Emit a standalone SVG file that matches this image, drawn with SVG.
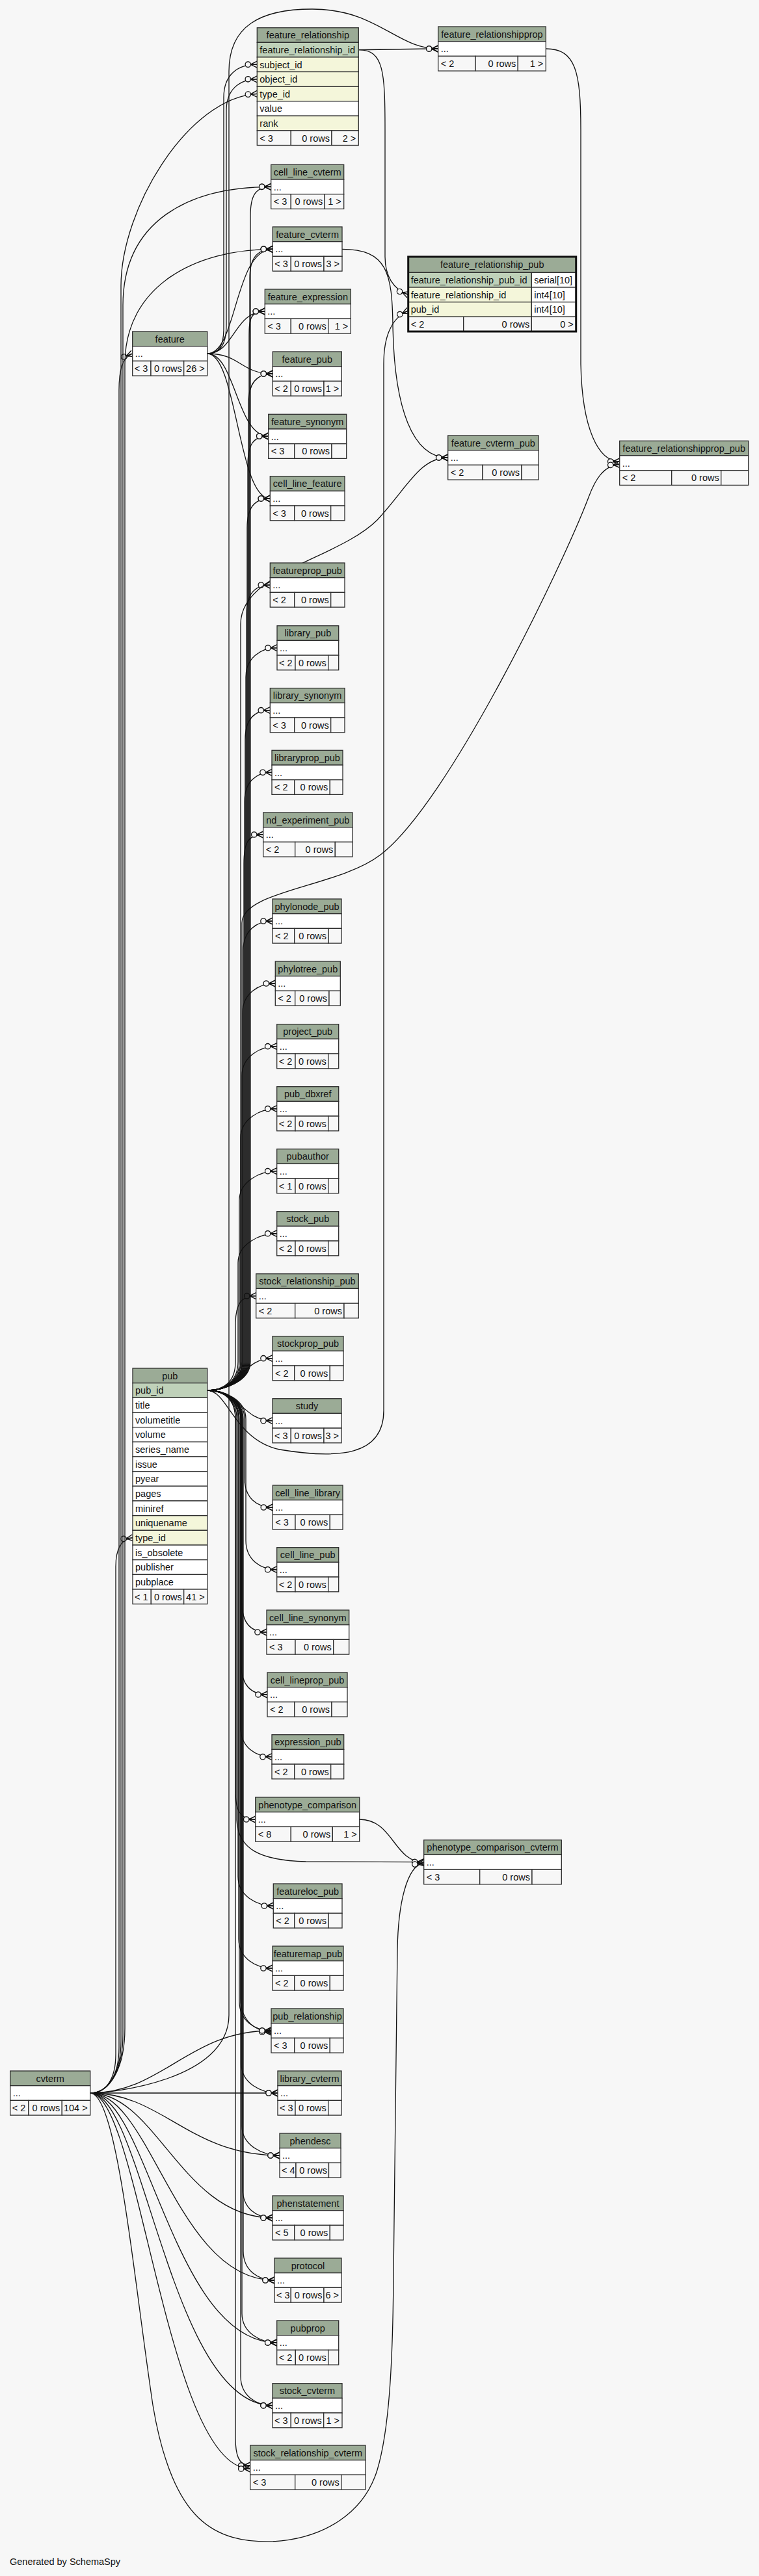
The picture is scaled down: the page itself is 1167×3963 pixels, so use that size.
<svg xmlns="http://www.w3.org/2000/svg" width="1167" height="3963" viewBox="0 0 1167 3963">
<style>
.h{fill:#9bab96;stroke:#2d2d2d;stroke-width:1.3}
.r{fill:#ffffff;stroke:#2d2d2d;stroke-width:1.3}
.p{fill:#bfd1b9;stroke:#2d2d2d;stroke-width:1.3}
.k{fill:#f4f6da;stroke:#2d2d2d;stroke-width:1.3}
.f{fill:#f7f7f7;stroke:#2d2d2d;stroke-width:1.3}
text{font-family:"Liberation Sans",Arial,Helvetica,sans-serif;font-size:14.5px;fill:#111}
.c{text-anchor:middle}
.e{text-anchor:end}
.ln{fill:none;stroke:#111;stroke-width:1.3;marker-end:url(#cf)}
</style>
<defs>
<marker id="cf" markerUnits="userSpaceOnUse" markerWidth="24" markerHeight="14" viewBox="-21 -7 24 14" refX="0" refY="0" orient="auto" overflow="visible">
<path d="M-10,0 L0,-5 M-10,0 L0,0 M-10,0 L0,5" stroke="#111" stroke-width="1.4" fill="none"/>
<circle cx="-14" cy="0" r="4.2" fill="#f7f7f7" stroke="#111" stroke-width="1.3"/>
</marker>
</defs>
<rect x="0" y="0" width="1167" height="3963" fill="#f7f7f7"/>

<g id="connectors">
<!-- feature_relationship children -->
<path class="ln" d="M551.3,76.6 C610,76.6 620,75 673.7,75"/>
<path class="ln" d="M551.3,76.6 C590,76.6 592,110 592,200 L592,395 C592,425 605,445 627.7,453.3"/>
<path class="ln" d="M839.3,75 C885,75 893,110 893,200 L893,560 C895,660 920,710 952.7,710"/>
<path class="ln" d="M526,383.3 C595,383.3 603,420 604,500 C606,630 635,704 688.7,704"/>
<path class="ln" d="M552.7,2799 C605,2799 605,2864.7 651.7,2864.7"/>
<!-- feature edges -->
<path class="ln" d="M318.7,544 C338,544 344,530 344,505 L344,150 C344,115 365,99.2 395.3,99.2"/>
<path class="ln" d="M318.7,544 C340,544 348,528 348,500 L348,170 C348,138 368,121.8 395.3,121.8"/>
<path class="ln" d="M318.7,544 C365,544 360,383.3 419.3,383.3"/>
<path class="ln" d="M318.7,544 C360,544 360,479 407.3,479"/>
<path class="ln" d="M318.7,544 C370,544 370,575 419.3,575"/>
<path class="ln" d="M318.7,544 C362,544 364,671 412.7,671"/>
<path class="ln" d="M318.7,544 C364,544 366,767 415.3,767"/>
<!-- pub edges (up) -->
<path class="ln" d="M318.7,2139 C345,2139 362,2125 362,2095 L362,2038.7 C362,2008.7 368.7,1993.7 393.7,1993.7"/>
<path class="ln" d="M318.7,2139 C345,2139 366,2125 366,2095 L366,1942.7 C366,1912.7 400.7,1897.7 425.7,1897.7"/>
<path class="ln" d="M318.7,2139 C345,2139 368,2125 368,2095 L368,1846.7 C368,1816.7 400.7,1801.7 425.7,1801.7"/>
<path class="ln" d="M318.7,2139 C345,2139 370,2125 370,2095 L370,1750.7 C370,1720.7 400.7,1705.7 425.7,1705.7"/>
<path class="ln" d="M318.7,2139 C345,2139 372,2125 372,2095 L372,1654.7 C372,1624.7 400.7,1609.7 425.7,1609.7"/>
<path class="ln" d="M318.7,2139 C345,2139 373,2125 373,2095 L373,1558 C373,1528 398.3,1513 423.3,1513"/>
<path class="ln" d="M318.7,2139 C345,2139 374,2125 374,2095 L374,1462 C374,1432 394,1417 419,1417"/>
<path class="ln" d="M318.7,2139 C345,2139 375,2125 375,2095 L375,1329 C375,1299 379.7,1284 404.7,1284"/>
<path class="ln" d="M318.7,2139 C345,2139 376,2125 376,2095 L376,1233.3 C376,1203.3 393,1188.3 418,1188.3"/>
<path class="ln" d="M318.7,2139 C345,2139 377,2125 377,2095 L377,1137.7 C377,1107.7 390.3,1092.7 415.3,1092.7"/>
<path class="ln" d="M318.7,2139 C345,2139 378,2125 378,2095 L378,1041.7 C378,1011.7 401,996.7 426,996.7"/>
<path class="ln" d="M318.7,2139 C345,2139 379,2125 379,2095 L379,945 C379,915 390.3,900 415.3,900"/>
<path class="ln" d="M318.7,2139 C345,2139 380,2125 380,2095 L380,812 C380,782 390.3,767 415.3,767"/>
<path class="ln" d="M318.7,2139 C345,2139 381,2125 381,2095 L381,716 C381,686 387.7,671 412.7,671"/>
<path class="ln" d="M318.7,2139 C345,2139 382,2125 382,2095 L382,620 C382,590 394.3,575 419.3,575"/>
<path class="ln" d="M318.7,2139 C345,2139 383,2125 383,2095 L383,524 C383,494 382.3,479 407.3,479"/>
<path class="ln" d="M318.7,2139 C345,2139 384,2125 384,2095 L384,428.3 C384,398.3 394.3,383.3 419.3,383.3"/>
<path class="ln" d="M318.7,2139 C345,2139 385,2125 385,2095 L385,332.3 C385,302.3 391.7,287.3 416.7,287.3"/>
<path class="ln" d="M318.7,2139 C345,2139 370,2125 370,2095 L370,960 C370,880 520,860 580,800 C625,752 645,704 688.7,704"/>
<path class="ln" d="M318.7,2139 C345,2139 372,2125 372,2095 L372,1420 C372,1370 520,1365 585,1315 C690,1235 865,870 905,765 C915,738 928,716 952.7,714.5"/>
<path class="ln" d="M318.7,2139 C350,2139 360,2215 430,2230 C520,2245 590,2240 590,2170 L590,560 C590,520 600,490 627.7,478"/>
<!-- pub edges (down) -->
<path class="ln" d="M318.7,2139 C370,2139 372,2185.7 419,2185.7"/>
<path class="ln" d="M318.7,2139 C370,2139 372,2089.7 419,2089.7"/>
<path class="ln" d="M318.7,2139 C345,2139 376,2153 376,2183 L376,2274 C376,2304 394.3,2319 419.3,2319"/>
<path class="ln" d="M318.7,2139 C345,2139 378,2153 378,2183 L378,2369.7 C378,2399.7 400.7,2414.7 425.7,2414.7"/>
<path class="ln" d="M318.7,2139 C345,2139 372,2153 372,2183 L372,2466 C372,2496 385,2511 410,2511"/>
<path class="ln" d="M318.7,2139 C345,2139 371,2153 371,2183 L371,2562 C371,2592 386,2607 411,2607"/>
<path class="ln" d="M318.7,2139 C345,2139 370,2153 370,2183 L370,2657.7 C370,2687.7 393,2702.7 418,2702.7"/>
<path class="ln" d="M318.7,2139 C345,2139 362,2153 362,2183 L362,2754 C362,2784 367.7,2799 392.7,2799"/>
<path class="ln" d="M318.7,2139 C345,2139 364,2153 364,2183 L364,2800 C366,2845 400,2862 470,2864 L651.7,2864.7"/>
<path class="ln" d="M318.7,2139 C345,2139 366,2153 366,2183 L366,2887 C366,2917 395.3,2932 420.3,2932"/>
<path class="ln" d="M318.7,2139 C345,2139 367,2153 367,2183 L367,2983 C367,3013 394,3028 419,3028"/>
<path class="ln" d="M318.7,2139 C345,2139 368,2153 368,2183 L368,3079 C368,3109 392,3124 417,3124"/>
<path class="ln" d="M318.7,2139 C345,2139 370,2153 370,2183 L370,3075 C370,3110 395,3126 417,3126"/>
<path class="ln" d="M318.7,2139 C345,2139 371,2153 371,2183 L371,3175 C371,3205 402,3220 427,3220"/>
<path class="ln" d="M318.7,2139 C345,2139 372,2153 372,2183 L372,3271 C372,3301 405,3316 430,3316"/>
<path class="ln" d="M318.7,2139 C345,2139 373,2153 373,2183 L373,3367 C373,3397 394,3412 419,3412"/>
<path class="ln" d="M318.7,2139 C345,2139 374,2153 374,2183 L374,3463 C374,3493 397,3508 422,3508"/>
<path class="ln" d="M318.7,2139 C345,2139 372,2153 372,2183 L372,3559 C372,3589 400.7,3604 425.7,3604"/>
<path class="ln" d="M318.7,2139 C345,2139 370,2153 370,2183 L370,3655.7 C370,3685.7 394,3700.7 419,3700.7"/>
<path class="ln" d="M318.7,2139 C345,2139 362,2153 362,2183 L362,3750 C362,3775 366,3793 384.7,3793"/>
<!-- cvterm edges -->
<path class="ln" d="M138.7,3220 C162,3220 178,3200 178,3160 L178,2410 C178,2385 185,2368 204,2365.7"/>
<path class="ln" d="M138.7,3220 C164,3220 183,3195 183,3150 L183,600 C183,570 188,550 203.7,544"/>
<path class="ln" d="M138.7,3220 C166,3220 186,3190 186,3140 L186,440 C186,320 290,150 395.3,144.4"/>
<path class="ln" d="M138.7,3220 C168,3220 189,3185 189,3130 L189,470 C189,340 290,287.3 416.7,287.3"/>
<path class="ln" d="M138.7,3220 C170,3220 192,3180 192,3120 L192,560 C192,440 300,383.3 419.3,383.3"/>
<path class="ln" d="M138.7,3220 C172,3220 352,3200 352,3100 L352,110 C352,40 400,14 480,14 C580,14 610,75 673.7,75"/>
<path class="ln" d="M138.7,3220 C250,3220 290,3124 417,3124"/>
<path class="ln" d="M138.7,3220 L427,3220"/>
<path class="ln" d="M138.7,3220 C250,3220 290,3316 430,3316"/>
<path class="ln" d="M138.7,3220 C240,3220 280,3412 419,3412"/>
<path class="ln" d="M138.7,3220 C232,3220 272,3508 422,3508"/>
<path class="ln" d="M138.7,3220 C226,3220 266,3604 425.7,3604"/>
<path class="ln" d="M138.7,3220 C220,3220 262,3700.7 419,3700.7"/>
<path class="ln" d="M138.7,3220 C214,3220 256,3798 384.7,3798"/>
<path class="ln" d="M138.7,3220 C180,3220 205,3500 235,3700 C265,3880 330,3912 420,3910 C500,3905 560,3865 580,3800 C598,3740 604,3640 605,3500 L611,3000 C612,2930 625,2870 651.7,2866"/>
</g>

<g id="feature_relationship">
<rect class="h" x="395.3" y="42.7" width="156" height="22.6"/>
<rect class="p" x="395.3" y="65.3" width="156" height="22.6"/>
<rect class="k" x="395.3" y="87.9" width="156" height="22.6"/>
<rect class="k" x="395.3" y="110.5" width="156" height="22.6"/>
<rect class="k" x="395.3" y="133.1" width="156" height="22.6"/>
<rect class="r" x="395.3" y="155.7" width="156" height="22.6"/>
<rect class="k" x="395.3" y="178.3" width="156" height="22.6"/>
<rect class="f" x="395.3" y="200.9" width="52" height="22.6"/>
<rect class="f" x="447.3" y="200.9" width="62.7" height="22.6"/>
<rect class="f" x="510" y="200.9" width="41.3" height="22.6"/>
<text class="c" x="473.3" y="59.3">feature_relationship</text>
<text x="399.3" y="81.9">feature_relationship_id</text>
<text x="399.3" y="104.5">subject_id</text>
<text x="399.3" y="127.1">object_id</text>
<text x="399.3" y="149.7">type_id</text>
<text x="399.3" y="172.3">value</text>
<text x="399.3" y="194.9">rank</text>
<text x="399.3" y="217.5">&lt; 3</text>
<text class="e" x="507" y="217.5">0 rows</text>
<text class="e" x="547.3" y="217.5">2 &gt;</text>
</g>

<g id="feature_relationshipprop">
<rect class="h" x="673.7" y="41" width="165.6" height="22.7"/>
<rect class="r" x="673.7" y="63.7" width="165.6" height="22.7"/>
<rect class="f" x="673.7" y="86.4" width="57.3" height="22.7"/>
<rect class="f" x="731" y="86.4" width="65.3" height="22.7"/>
<rect class="f" x="796.3" y="86.4" width="43" height="22.7"/>
<text class="c" x="756.5" y="57.6">feature_relationshipprop</text>
<text x="677.7" y="80.3">...</text>
<text x="677.7" y="103">&lt; 2</text>
<text class="e" x="793.3" y="103">0 rows</text>
<text class="e" x="835.3" y="103">1 &gt;</text>
</g>

<g id="feature_relationship_pub">
<rect class="h" x="627.7" y="395" width="258" height="24.3"/>
<rect class="p" x="627.7" y="419.3" width="189.6" height="22.7"/>
<rect class="r" x="817.3" y="419.3" width="68.4" height="22.7"/>
<rect class="k" x="627.7" y="442" width="189.6" height="22.7"/>
<rect class="r" x="817.3" y="442" width="68.4" height="22.7"/>
<rect class="k" x="627.7" y="464.7" width="189.6" height="22.7"/>
<rect class="r" x="817.3" y="464.7" width="68.4" height="22.7"/>
<rect class="f" x="627.7" y="487.4" width="85" height="22.6"/>
<rect class="f" x="712.7" y="487.4" width="104.6" height="22.6"/>
<rect class="f" x="817.3" y="487.4" width="68.4" height="22.6"/>
<rect x="627.7" y="395" width="258" height="115" fill="none" stroke="#111" stroke-width="3"/>
<text class="c" x="756.7" y="412.2">feature_relationship_pub</text>
<text x="631.7" y="435.9">feature_relationship_pub_id</text>
<text x="821.3" y="435.9">serial[10]</text>
<text x="631.7" y="458.6">feature_relationship_id</text>
<text x="821.3" y="458.6">int4[10]</text>
<text x="631.7" y="481.3">pub_id</text>
<text x="821.3" y="481.3">int4[10]</text>
<text x="631.7" y="504">&lt; 2</text>
<text class="e" x="814.3" y="504">0 rows</text>
<text class="e" x="881.7" y="504">0 &gt;</text>
</g>

<g id="cell_line_cvterm">
<rect class="h" x="416.7" y="253.3" width="112" height="22.7"/>
<rect class="r" x="416.7" y="276" width="112" height="22.7"/>
<rect class="f" x="416.7" y="298.7" width="30.6" height="22.7"/>
<rect class="f" x="447.3" y="298.7" width="52" height="22.7"/>
<rect class="f" x="499.3" y="298.7" width="29.4" height="22.7"/>
<text class="c" x="472.7" y="269.9">cell_line_cvterm</text>
<text x="420.7" y="292.6">...</text>
<text x="420.7" y="315.3">&lt; 3</text>
<text class="e" x="496.3" y="315.3">0 rows</text>
<text class="e" x="524.7" y="315.3">1 &gt;</text>
</g>

<g id="feature_cvterm">
<rect class="h" x="419.3" y="349" width="106.7" height="22.7"/>
<rect class="r" x="419.3" y="371.7" width="106.7" height="22.7"/>
<rect class="f" x="419.3" y="394.4" width="28" height="22.7"/>
<rect class="f" x="447.3" y="394.4" width="50.7" height="22.7"/>
<rect class="f" x="498" y="394.4" width="28" height="22.7"/>
<text class="c" x="472.65" y="365.6">feature_cvterm</text>
<text x="423.3" y="388.3">...</text>
<text x="422.3" y="411">&lt; 3</text>
<text class="e" x="495" y="411">0 rows</text>
<text class="e" x="522" y="411">3 &gt;</text>
</g>

<g id="feature_expression">
<rect class="h" x="407.3" y="445" width="132" height="22.7"/>
<rect class="r" x="407.3" y="467.7" width="132" height="22.7"/>
<rect class="f" x="407.3" y="490.4" width="40" height="22.7"/>
<rect class="f" x="447.3" y="490.4" width="57.4" height="22.7"/>
<rect class="f" x="504.7" y="490.4" width="34.6" height="22.7"/>
<text class="c" x="473.3" y="461.6">feature_expression</text>
<text x="411.3" y="484.3">...</text>
<text x="411.3" y="507">&lt; 3</text>
<text class="e" x="501.7" y="507">0 rows</text>
<text class="e" x="535.3" y="507">1 &gt;</text>
</g>

<g id="feature">
<rect class="h" x="203.7" y="510" width="115" height="22.7"/>
<rect class="r" x="203.7" y="532.7" width="115" height="22.7"/>
<rect class="f" x="203.7" y="555.4" width="28.3" height="22.7"/>
<rect class="f" x="232" y="555.4" width="50.7" height="22.7"/>
<rect class="f" x="282.7" y="555.4" width="36" height="22.7"/>
<text class="c" x="261.2" y="526.6">feature</text>
<text x="207.7" y="549.3">...</text>
<text x="206.7" y="572">&lt; 3</text>
<text class="e" x="279.7" y="572">0 rows</text>
<text class="e" x="314.7" y="572">26 &gt;</text>
</g>

<g id="feature_pub">
<rect class="h" x="419.3" y="541" width="106" height="22.7"/>
<rect class="r" x="419.3" y="563.7" width="106" height="22.7"/>
<rect class="f" x="419.3" y="586.4" width="28" height="22.7"/>
<rect class="f" x="447.3" y="586.4" width="50.7" height="22.7"/>
<rect class="f" x="498" y="586.4" width="27.3" height="22.7"/>
<text class="c" x="472.3" y="557.6">feature_pub</text>
<text x="423.3" y="580.3">...</text>
<text x="422.3" y="603">&lt; 2</text>
<text class="e" x="495" y="603">0 rows</text>
<text class="e" x="521.3" y="603">1 &gt;</text>
</g>

<g id="feature_synonym">
<rect class="h" x="412.7" y="637.3" width="120" height="22.7"/>
<rect class="r" x="412.7" y="660" width="120" height="22.7"/>
<rect class="f" x="412.7" y="682.7" width="40" height="22.7"/>
<rect class="f" x="452.7" y="682.7" width="57.3" height="22.7"/>
<rect class="f" x="510" y="682.7" width="22.7" height="22.7"/>
<text class="c" x="472.7" y="653.9">feature_synonym</text>
<text x="416.7" y="676.6">...</text>
<text x="416.7" y="699.3">&lt; 3</text>
<text class="e" x="507" y="699.3">0 rows</text>
</g>

<g id="cell_line_feature">
<rect class="h" x="415.3" y="732.7" width="114.7" height="22.7"/>
<rect class="r" x="415.3" y="755.4" width="114.7" height="22.7"/>
<rect class="f" x="415.3" y="778.1" width="37.4" height="22.7"/>
<rect class="f" x="452.7" y="778.1" width="56" height="22.7"/>
<rect class="f" x="508.7" y="778.1" width="21.3" height="22.7"/>
<text class="c" x="472.65" y="749.3">cell_line_feature</text>
<text x="419.3" y="772">...</text>
<text x="419.3" y="794.7">&lt; 3</text>
<text class="e" x="505.7" y="794.7">0 rows</text>
</g>

<g id="feature_cvterm_pub">
<rect class="h" x="688.7" y="670" width="139.3" height="22.7"/>
<rect class="r" x="688.7" y="692.7" width="139.3" height="22.7"/>
<rect class="f" x="688.7" y="715.4" width="53.3" height="22.7"/>
<rect class="f" x="742" y="715.4" width="60" height="22.7"/>
<rect class="f" x="802" y="715.4" width="26" height="22.7"/>
<text class="c" x="758.35" y="686.6">feature_cvterm_pub</text>
<text x="692.7" y="709.3">...</text>
<text x="692.7" y="732">&lt; 2</text>
<text class="e" x="799" y="732">0 rows</text>
</g>

<g id="feature_relationshipprop_pub">
<rect class="h" x="952.7" y="678.3" width="198" height="22.7"/>
<rect class="r" x="952.7" y="701" width="198" height="22.7"/>
<rect class="f" x="952.7" y="723.7" width="80" height="22.7"/>
<rect class="f" x="1032.7" y="723.7" width="76" height="22.7"/>
<rect class="f" x="1108.7" y="723.7" width="42" height="22.7"/>
<text class="c" x="1051.7" y="694.9">feature_relationshipprop_pub</text>
<text x="956.7" y="717.6">...</text>
<text x="956.7" y="740.3">&lt; 2</text>
<text class="e" x="1105.7" y="740.3">0 rows</text>
</g>

<g id="featureprop_pub">
<rect class="h" x="415.3" y="866" width="114.7" height="22.7"/>
<rect class="r" x="415.3" y="888.7" width="114.7" height="22.7"/>
<rect class="f" x="415.3" y="911.4" width="37.4" height="22.7"/>
<rect class="f" x="452.7" y="911.4" width="56" height="22.7"/>
<rect class="f" x="508.7" y="911.4" width="21.3" height="22.7"/>
<text class="c" x="472.65" y="882.6">featureprop_pub</text>
<text x="419.3" y="905.3">...</text>
<text x="419.3" y="928">&lt; 2</text>
<text class="e" x="505.7" y="928">0 rows</text>
</g>

<g id="library_pub">
<rect class="h" x="426" y="962.7" width="94.7" height="22.7"/>
<rect class="r" x="426" y="985.4" width="94.7" height="22.7"/>
<rect class="f" x="426" y="1008.1" width="28" height="22.7"/>
<rect class="f" x="454" y="1008.1" width="50.7" height="22.7"/>
<rect class="f" x="504.7" y="1008.1" width="16" height="22.7"/>
<text class="c" x="473.35" y="979.3">library_pub</text>
<text x="430" y="1002">...</text>
<text x="429" y="1024.7">&lt; 2</text>
<text class="e" x="501.7" y="1024.7">0 rows</text>
</g>

<g id="library_synonym">
<rect class="h" x="415.3" y="1058.7" width="114.7" height="22.7"/>
<rect class="r" x="415.3" y="1081.4" width="114.7" height="22.7"/>
<rect class="f" x="415.3" y="1104.1" width="37.4" height="22.7"/>
<rect class="f" x="452.7" y="1104.1" width="56" height="22.7"/>
<rect class="f" x="508.7" y="1104.1" width="21.3" height="22.7"/>
<text class="c" x="472.65" y="1075.3">library_synonym</text>
<text x="419.3" y="1098">...</text>
<text x="419.3" y="1120.7">&lt; 3</text>
<text class="e" x="505.7" y="1120.7">0 rows</text>
</g>

<g id="libraryprop_pub">
<rect class="h" x="418" y="1154.3" width="109" height="22.7"/>
<rect class="r" x="418" y="1177" width="109" height="22.7"/>
<rect class="f" x="418" y="1199.7" width="34.7" height="22.7"/>
<rect class="f" x="452.7" y="1199.7" width="54.6" height="22.7"/>
<rect class="f" x="507.3" y="1199.7" width="19.7" height="22.7"/>
<text class="c" x="472.5" y="1170.9">libraryprop_pub</text>
<text x="422" y="1193.6">...</text>
<text x="422" y="1216.3">&lt; 2</text>
<text class="e" x="504.3" y="1216.3">0 rows</text>
</g>

<g id="nd_experiment_pub">
<rect class="h" x="404.7" y="1250" width="137.3" height="22.7"/>
<rect class="r" x="404.7" y="1272.7" width="137.3" height="22.7"/>
<rect class="f" x="404.7" y="1295.4" width="49" height="22.7"/>
<rect class="f" x="453.7" y="1295.4" width="61.6" height="22.7"/>
<rect class="f" x="515.3" y="1295.4" width="26.7" height="22.7"/>
<text class="c" x="473.35" y="1266.6">nd_experiment_pub</text>
<text x="408.7" y="1289.3">...</text>
<text x="408.7" y="1312">&lt; 2</text>
<text class="e" x="512.3" y="1312">0 rows</text>
</g>

<g id="phylonode_pub">
<rect class="h" x="419" y="1383" width="106" height="22.7"/>
<rect class="r" x="419" y="1405.7" width="106" height="22.7"/>
<rect class="f" x="419" y="1428.4" width="33.7" height="22.7"/>
<rect class="f" x="452.7" y="1428.4" width="52.3" height="22.7"/>
<rect class="f" x="505" y="1428.4" width="20" height="22.7"/>
<text class="c" x="472" y="1399.6">phylonode_pub</text>
<text x="423" y="1422.3">...</text>
<text x="423" y="1445">&lt; 2</text>
<text class="e" x="502" y="1445">0 rows</text>
</g>

<g id="phylotree_pub">
<rect class="h" x="423.3" y="1479" width="100" height="22.7"/>
<rect class="r" x="423.3" y="1501.7" width="100" height="22.7"/>
<rect class="f" x="423.3" y="1524.4" width="30.4" height="22.7"/>
<rect class="f" x="453.7" y="1524.4" width="52.3" height="22.7"/>
<rect class="f" x="506" y="1524.4" width="17.3" height="22.7"/>
<text class="c" x="473.3" y="1495.6">phylotree_pub</text>
<text x="427.3" y="1518.3">...</text>
<text x="427.3" y="1541">&lt; 2</text>
<text class="e" x="503" y="1541">0 rows</text>
</g>

<g id="project_pub">
<rect class="h" x="425.7" y="1575.7" width="95" height="22.7"/>
<rect class="r" x="425.7" y="1598.4" width="95" height="22.7"/>
<rect class="f" x="425.7" y="1621.1" width="28.3" height="22.7"/>
<rect class="f" x="454" y="1621.1" width="50.7" height="22.7"/>
<rect class="f" x="504.7" y="1621.1" width="16" height="22.7"/>
<text class="c" x="473.2" y="1592.3">project_pub</text>
<text x="429.7" y="1615">...</text>
<text x="428.7" y="1637.7">&lt; 2</text>
<text class="e" x="501.7" y="1637.7">0 rows</text>
</g>

<g id="pub_dbxref">
<rect class="h" x="425.7" y="1671.7" width="95" height="22.7"/>
<rect class="r" x="425.7" y="1694.4" width="95" height="22.7"/>
<rect class="f" x="425.7" y="1717.1" width="28.3" height="22.7"/>
<rect class="f" x="454" y="1717.1" width="50.7" height="22.7"/>
<rect class="f" x="504.7" y="1717.1" width="16" height="22.7"/>
<text class="c" x="473.2" y="1688.3">pub_dbxref</text>
<text x="429.7" y="1711">...</text>
<text x="428.7" y="1733.7">&lt; 2</text>
<text class="e" x="501.7" y="1733.7">0 rows</text>
</g>

<g id="pubauthor">
<rect class="h" x="425.7" y="1767.7" width="95" height="22.7"/>
<rect class="r" x="425.7" y="1790.4" width="95" height="22.7"/>
<rect class="f" x="425.7" y="1813.1" width="28.3" height="22.7"/>
<rect class="f" x="454" y="1813.1" width="50.7" height="22.7"/>
<rect class="f" x="504.7" y="1813.1" width="16" height="22.7"/>
<text class="c" x="473.2" y="1784.3">pubauthor</text>
<text x="429.7" y="1807">...</text>
<text x="428.7" y="1829.7">&lt; 1</text>
<text class="e" x="501.7" y="1829.7">0 rows</text>
</g>

<g id="stock_pub">
<rect class="h" x="425.7" y="1863.7" width="95" height="22.7"/>
<rect class="r" x="425.7" y="1886.4" width="95" height="22.7"/>
<rect class="f" x="425.7" y="1909.1" width="28.3" height="22.7"/>
<rect class="f" x="454" y="1909.1" width="50.7" height="22.7"/>
<rect class="f" x="504.7" y="1909.1" width="16" height="22.7"/>
<text class="c" x="473.2" y="1880.3">stock_pub</text>
<text x="429.7" y="1903">...</text>
<text x="428.7" y="1925.7">&lt; 2</text>
<text class="e" x="501.7" y="1925.7">0 rows</text>
</g>

<g id="stock_relationship_pub">
<rect class="h" x="393.7" y="1959.7" width="157.6" height="22.7"/>
<rect class="r" x="393.7" y="1982.4" width="157.6" height="22.7"/>
<rect class="f" x="393.7" y="2005.1" width="60" height="22.7"/>
<rect class="f" x="453.7" y="2005.1" width="75.3" height="22.7"/>
<rect class="f" x="529" y="2005.1" width="22.3" height="22.7"/>
<text class="c" x="472.5" y="1976.3">stock_relationship_pub</text>
<text x="397.7" y="1999">...</text>
<text x="397.7" y="2021.7">&lt; 2</text>
<text class="e" x="526" y="2021.7">0 rows</text>
</g>

<g id="stockprop_pub">
<rect class="h" x="419" y="2055.7" width="109" height="22.7"/>
<rect class="r" x="419" y="2078.4" width="109" height="22.7"/>
<rect class="f" x="419" y="2101.1" width="33.7" height="22.7"/>
<rect class="f" x="452.7" y="2101.1" width="54.6" height="22.7"/>
<rect class="f" x="507.3" y="2101.1" width="20.7" height="22.7"/>
<text class="c" x="473.5" y="2072.3">stockprop_pub</text>
<text x="423" y="2095">...</text>
<text x="423" y="2117.7">&lt; 2</text>
<text class="e" x="504.3" y="2117.7">0 rows</text>
</g>

<g id="study">
<rect class="h" x="419" y="2151.7" width="106" height="22.7"/>
<rect class="r" x="419" y="2174.4" width="106" height="22.7"/>
<rect class="f" x="419" y="2197.1" width="28.3" height="22.7"/>
<rect class="f" x="447.3" y="2197.1" width="50.7" height="22.7"/>
<rect class="f" x="498" y="2197.1" width="27" height="22.7"/>
<text class="c" x="472" y="2168.3">study</text>
<text x="423" y="2191">...</text>
<text x="422" y="2213.7">&lt; 3</text>
<text class="e" x="495" y="2213.7">0 rows</text>
<text class="e" x="521" y="2213.7">3 &gt;</text>
</g>

<g id="pub">
<rect class="h" x="204" y="2105" width="114.7" height="22.67"/>
<rect class="p" x="204" y="2127.67" width="114.7" height="22.67"/>
<rect class="r" x="204" y="2150.33" width="114.7" height="22.67"/>
<rect class="r" x="204" y="2173" width="114.7" height="22.67"/>
<rect class="r" x="204" y="2195.67" width="114.7" height="22.67"/>
<rect class="r" x="204" y="2218.33" width="114.7" height="22.67"/>
<rect class="r" x="204" y="2241" width="114.7" height="22.67"/>
<rect class="r" x="204" y="2263.67" width="114.7" height="22.67"/>
<rect class="r" x="204" y="2286.33" width="114.7" height="22.67"/>
<rect class="r" x="204" y="2309" width="114.7" height="22.67"/>
<rect class="k" x="204" y="2331.67" width="114.7" height="22.67"/>
<rect class="k" x="204" y="2354.33" width="114.7" height="22.67"/>
<rect class="r" x="204" y="2377" width="114.7" height="22.67"/>
<rect class="r" x="204" y="2399.67" width="114.7" height="22.67"/>
<rect class="r" x="204" y="2422.33" width="114.7" height="22.67"/>
<rect class="f" x="204" y="2445" width="28.3" height="22.67"/>
<rect class="f" x="232.3" y="2445" width="50.4" height="22.67"/>
<rect class="f" x="282.7" y="2445" width="36" height="22.67"/>
<text class="c" x="261.35" y="2121.6">pub</text>
<text x="208" y="2144.3">pub_id</text>
<text x="208" y="2166.9">title</text>
<text x="208" y="2189.6">volumetitle</text>
<text x="208" y="2212.3">volume</text>
<text x="208" y="2234.9">series_name</text>
<text x="208" y="2257.6">issue</text>
<text x="208" y="2280.3">pyear</text>
<text x="208" y="2302.9">pages</text>
<text x="208" y="2325.6">miniref</text>
<text x="208" y="2348.3">uniquename</text>
<text x="208" y="2370.9">type_id</text>
<text x="208" y="2393.6">is_obsolete</text>
<text x="208" y="2416.3">publisher</text>
<text x="208" y="2438.9">pubplace</text>
<text x="207" y="2461.6">&lt; 1</text>
<text class="e" x="279.7" y="2461.6">0 rows</text>
<text class="e" x="314.7" y="2461.6">41 &gt;</text>
</g>

<g id="cell_line_library">
<rect class="h" x="419.3" y="2285" width="107.7" height="22.7"/>
<rect class="r" x="419.3" y="2307.7" width="107.7" height="22.7"/>
<rect class="f" x="419.3" y="2330.4" width="34.7" height="22.7"/>
<rect class="f" x="454" y="2330.4" width="53.3" height="22.7"/>
<rect class="f" x="507.3" y="2330.4" width="19.7" height="22.7"/>
<text class="c" x="473.15" y="2301.6">cell_line_library</text>
<text x="423.3" y="2324.3">...</text>
<text x="423.3" y="2347">&lt; 3</text>
<text class="e" x="504.3" y="2347">0 rows</text>
</g>

<g id="cell_line_pub">
<rect class="h" x="425.7" y="2380.7" width="95" height="22.7"/>
<rect class="r" x="425.7" y="2403.4" width="95" height="22.7"/>
<rect class="f" x="425.7" y="2426.1" width="28.3" height="22.7"/>
<rect class="f" x="454" y="2426.1" width="50.7" height="22.7"/>
<rect class="f" x="504.7" y="2426.1" width="16" height="22.7"/>
<text class="c" x="473.2" y="2397.3">cell_line_pub</text>
<text x="429.7" y="2420">...</text>
<text x="428.7" y="2442.7">&lt; 2</text>
<text class="e" x="501.7" y="2442.7">0 rows</text>
</g>

<g id="cell_line_synonym">
<rect class="h" x="410" y="2477" width="126.7" height="22.7"/>
<rect class="r" x="410" y="2499.7" width="126.7" height="22.7"/>
<rect class="f" x="410" y="2522.4" width="44" height="22.7"/>
<rect class="f" x="454" y="2522.4" width="58.7" height="22.7"/>
<rect class="f" x="512.7" y="2522.4" width="24" height="22.7"/>
<text class="c" x="473.35" y="2493.6">cell_line_synonym</text>
<text x="414" y="2516.3">...</text>
<text x="414" y="2539">&lt; 3</text>
<text class="e" x="509.7" y="2539">0 rows</text>
</g>

<g id="cell_lineprop_pub">
<rect class="h" x="411" y="2573" width="123" height="22.7"/>
<rect class="r" x="411" y="2595.7" width="123" height="22.7"/>
<rect class="f" x="411" y="2618.4" width="41.7" height="22.7"/>
<rect class="f" x="452.7" y="2618.4" width="57.3" height="22.7"/>
<rect class="f" x="510" y="2618.4" width="24" height="22.7"/>
<text class="c" x="472.5" y="2589.6">cell_lineprop_pub</text>
<text x="415" y="2612.3">...</text>
<text x="415" y="2635">&lt; 2</text>
<text class="e" x="507" y="2635">0 rows</text>
</g>

<g id="expression_pub">
<rect class="h" x="418" y="2668.7" width="110.7" height="22.7"/>
<rect class="r" x="418" y="2691.4" width="110.7" height="22.7"/>
<rect class="f" x="418" y="2714.1" width="34.7" height="22.7"/>
<rect class="f" x="452.7" y="2714.1" width="56" height="22.7"/>
<rect class="f" x="508.7" y="2714.1" width="20" height="22.7"/>
<text class="c" x="473.35" y="2685.3">expression_pub</text>
<text x="422" y="2708">...</text>
<text x="422" y="2730.7">&lt; 2</text>
<text class="e" x="505.7" y="2730.7">0 rows</text>
</g>

<g id="phenotype_comparison">
<rect class="h" x="392.7" y="2765" width="160" height="22.7"/>
<rect class="r" x="392.7" y="2787.7" width="160" height="22.7"/>
<rect class="f" x="392.7" y="2810.4" width="54.6" height="22.7"/>
<rect class="f" x="447.3" y="2810.4" width="64" height="22.7"/>
<rect class="f" x="511.3" y="2810.4" width="41.4" height="22.7"/>
<text class="c" x="472.7" y="2781.6">phenotype_comparison</text>
<text x="396.7" y="2804.3">...</text>
<text x="396.7" y="2827">&lt; 8</text>
<text class="e" x="508.3" y="2827">0 rows</text>
<text class="e" x="548.7" y="2827">1 &gt;</text>
</g>

<g id="phenotype_comparison_cvterm">
<rect class="h" x="651.7" y="2830.7" width="211.6" height="22.7"/>
<rect class="r" x="651.7" y="2853.4" width="211.6" height="22.7"/>
<rect class="f" x="651.7" y="2876.1" width="86" height="22.7"/>
<rect class="f" x="737.7" y="2876.1" width="80.3" height="22.7"/>
<rect class="f" x="818" y="2876.1" width="45.3" height="22.7"/>
<text class="c" x="757.5" y="2847.3">phenotype_comparison_cvterm</text>
<text x="655.7" y="2870">...</text>
<text x="655.7" y="2892.7">&lt; 3</text>
<text class="e" x="815" y="2892.7">0 rows</text>
</g>

<g id="featureloc_pub">
<rect class="h" x="420.3" y="2898" width="105.7" height="22.7"/>
<rect class="r" x="420.3" y="2920.7" width="105.7" height="22.7"/>
<rect class="f" x="420.3" y="2943.4" width="32.4" height="22.7"/>
<rect class="f" x="452.7" y="2943.4" width="52.3" height="22.7"/>
<rect class="f" x="505" y="2943.4" width="21" height="22.7"/>
<text class="c" x="473.15" y="2914.6">featureloc_pub</text>
<text x="424.3" y="2937.3">...</text>
<text x="424.3" y="2960">&lt; 2</text>
<text class="e" x="502" y="2960">0 rows</text>
</g>

<g id="featuremap_pub">
<rect class="h" x="419" y="2994" width="109" height="22.7"/>
<rect class="r" x="419" y="3016.7" width="109" height="22.7"/>
<rect class="f" x="419" y="3039.4" width="33.7" height="22.7"/>
<rect class="f" x="452.7" y="3039.4" width="54.6" height="22.7"/>
<rect class="f" x="507.3" y="3039.4" width="20.7" height="22.7"/>
<text class="c" x="473.5" y="3010.6">featuremap_pub</text>
<text x="423" y="3033.3">...</text>
<text x="423" y="3056">&lt; 2</text>
<text class="e" x="504.3" y="3056">0 rows</text>
</g>

<g id="pub_relationship">
<rect class="h" x="417" y="3090" width="111" height="22.7"/>
<rect class="r" x="417" y="3112.7" width="111" height="22.7"/>
<rect class="f" x="417" y="3135.4" width="35.7" height="22.7"/>
<rect class="f" x="452.7" y="3135.4" width="54.6" height="22.7"/>
<rect class="f" x="507.3" y="3135.4" width="20.7" height="22.7"/>
<text class="c" x="472.5" y="3106.6">pub_relationship</text>
<text x="421" y="3129.3">...</text>
<text x="421" y="3152">&lt; 3</text>
<text class="e" x="504.3" y="3152">0 rows</text>
</g>

<g id="library_cvterm">
<rect class="h" x="427" y="3186" width="98" height="22.7"/>
<rect class="r" x="427" y="3208.7" width="98" height="22.7"/>
<rect class="f" x="427" y="3231.4" width="27" height="22.7"/>
<rect class="f" x="454" y="3231.4" width="50.7" height="22.7"/>
<rect class="f" x="504.7" y="3231.4" width="20.3" height="22.7"/>
<text class="c" x="476" y="3202.6">library_cvterm</text>
<text x="431" y="3225.3">...</text>
<text x="430" y="3248">&lt; 3</text>
<text class="e" x="501.7" y="3248">0 rows</text>
</g>

<g id="phendesc">
<rect class="h" x="430" y="3282" width="94" height="22.7"/>
<rect class="r" x="430" y="3304.7" width="94" height="22.7"/>
<rect class="f" x="430" y="3327.4" width="25" height="22.7"/>
<rect class="f" x="455" y="3327.4" width="50.5" height="22.7"/>
<rect class="f" x="505.5" y="3327.4" width="18.5" height="22.7"/>
<text class="c" x="477" y="3298.6">phendesc</text>
<text x="434" y="3321.3">...</text>
<text x="433" y="3344">&lt; 4</text>
<text class="e" x="503" y="3344">0 rows</text>
</g>

<g id="phenstatement">
<rect class="h" x="419" y="3378" width="109" height="22.7"/>
<rect class="r" x="419" y="3400.7" width="109" height="22.7"/>
<rect class="f" x="419" y="3423.4" width="33.7" height="22.7"/>
<rect class="f" x="452.7" y="3423.4" width="54.6" height="22.7"/>
<rect class="f" x="507.3" y="3423.4" width="20.7" height="22.7"/>
<text class="c" x="473.5" y="3394.6">phenstatement</text>
<text x="423" y="3417.3">...</text>
<text x="423" y="3440">&lt; 5</text>
<text class="e" x="504.3" y="3440">0 rows</text>
</g>

<g id="protocol">
<rect class="h" x="422" y="3474" width="103" height="22.7"/>
<rect class="r" x="422" y="3496.7" width="103" height="22.7"/>
<rect class="f" x="422" y="3519.4" width="25.3" height="22.7"/>
<rect class="f" x="447.3" y="3519.4" width="50.7" height="22.7"/>
<rect class="f" x="498" y="3519.4" width="27" height="22.7"/>
<text class="c" x="473.5" y="3490.6">protocol</text>
<text x="426" y="3513.3">...</text>
<text x="425" y="3536">&lt; 3</text>
<text class="e" x="495.5" y="3536">0 rows</text>
<text class="e" x="521" y="3536">6 &gt;</text>
</g>

<g id="pubprop">
<rect class="h" x="425.7" y="3570" width="95" height="22.7"/>
<rect class="r" x="425.7" y="3592.7" width="95" height="22.7"/>
<rect class="f" x="425.7" y="3615.4" width="28.6" height="22.7"/>
<rect class="f" x="454.3" y="3615.4" width="50.4" height="22.7"/>
<rect class="f" x="504.7" y="3615.4" width="16" height="22.7"/>
<text class="c" x="473.2" y="3586.6">pubprop</text>
<text x="429.7" y="3609.3">...</text>
<text x="428.7" y="3632">&lt; 2</text>
<text class="e" x="501.7" y="3632">0 rows</text>
</g>

<g id="stock_cvterm">
<rect class="h" x="419" y="3666.7" width="107" height="22.7"/>
<rect class="r" x="419" y="3689.4" width="107" height="22.7"/>
<rect class="f" x="419" y="3712.1" width="28.3" height="22.7"/>
<rect class="f" x="447.3" y="3712.1" width="50.4" height="22.7"/>
<rect class="f" x="497.7" y="3712.1" width="28.3" height="22.7"/>
<text class="c" x="472.5" y="3683.3">stock_cvterm</text>
<text x="423" y="3706">...</text>
<text x="422" y="3728.7">&lt; 3</text>
<text class="e" x="494.7" y="3728.7">0 rows</text>
<text class="e" x="522" y="3728.7">1 &gt;</text>
</g>

<g id="stock_relationship_cvterm">
<rect class="h" x="384.7" y="3762" width="177.3" height="22.7"/>
<rect class="r" x="384.7" y="3784.7" width="177.3" height="22.7"/>
<rect class="f" x="384.7" y="3807.4" width="69" height="22.7"/>
<rect class="f" x="453.7" y="3807.4" width="71" height="22.7"/>
<rect class="f" x="524.7" y="3807.4" width="37.3" height="22.7"/>
<text class="c" x="473.35" y="3778.6">stock_relationship_cvterm</text>
<text x="388.7" y="3801.3">...</text>
<text x="388.7" y="3824">&lt; 3</text>
<text class="e" x="521.7" y="3824">0 rows</text>
</g>

<g id="cvterm">
<rect class="h" x="15.7" y="3186" width="123" height="22.7"/>
<rect class="r" x="15.7" y="3208.7" width="123" height="22.7"/>
<rect class="f" x="15.7" y="3231.4" width="28.3" height="22.7"/>
<rect class="f" x="44" y="3231.4" width="51.3" height="22.7"/>
<rect class="f" x="95.3" y="3231.4" width="43.4" height="22.7"/>
<text class="c" x="77.2" y="3202.6">cvterm</text>
<text x="19.7" y="3225.3">...</text>
<text x="18.7" y="3248">&lt; 2</text>
<text class="e" x="92.3" y="3248">0 rows</text>
<text class="e" x="134.7" y="3248">104 &gt;</text>
</g>

<text x="15" y="3946">Generated by SchemaSpy</text>
</svg>
